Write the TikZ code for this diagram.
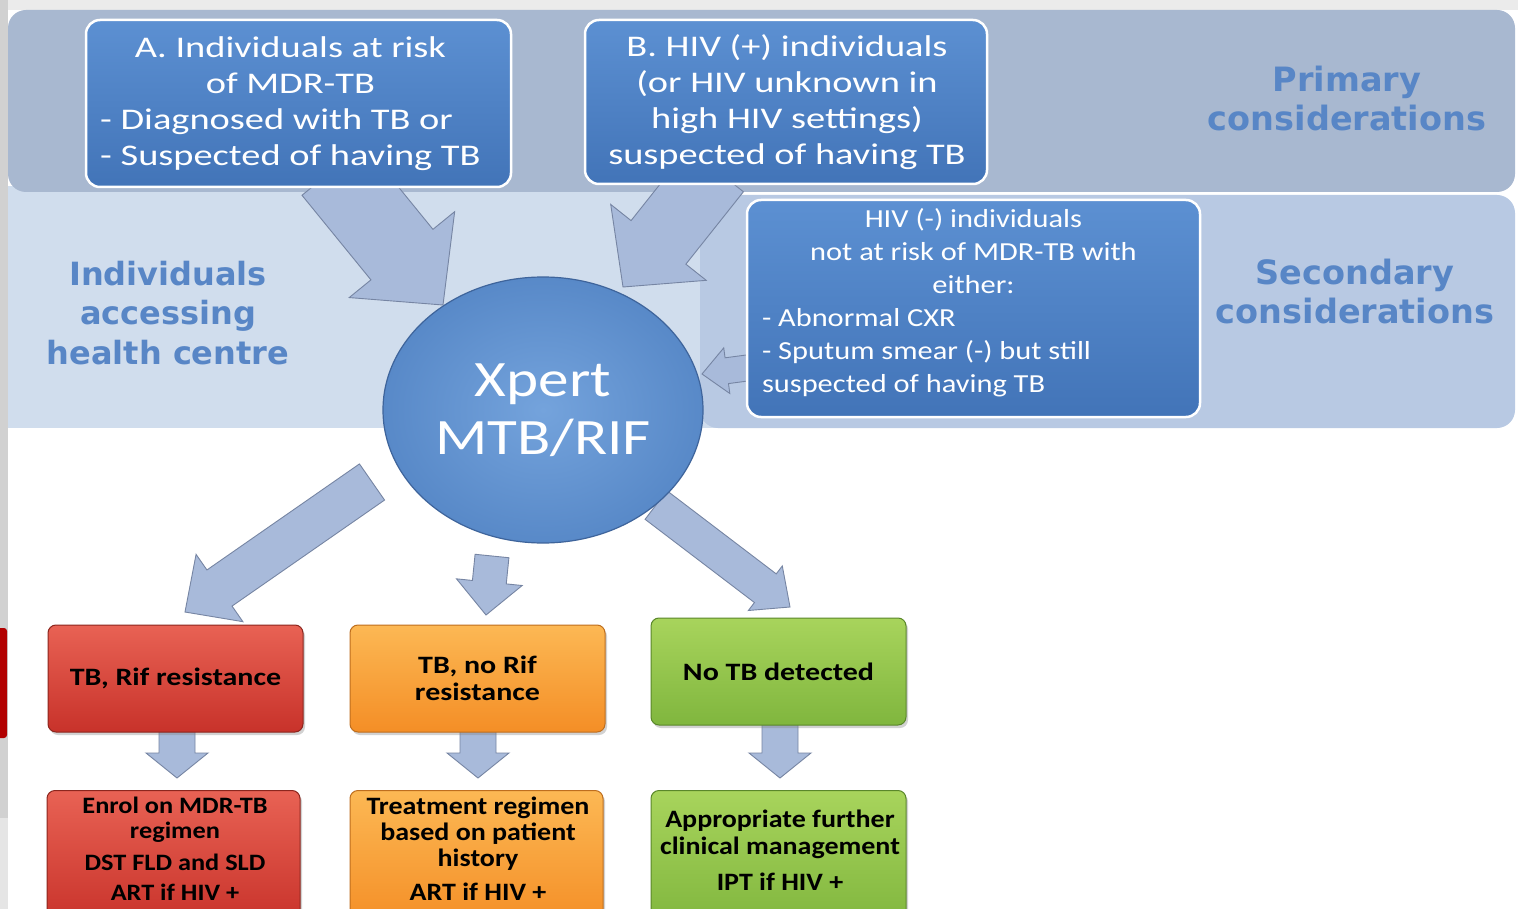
\documentclass[tikz,border=0pt]{standalone}
\usepackage{fontspec}
\setmainfont{Carlito}
\newfontfamily\lblfont{DejaVu Sans}
\newfontfamily\wideA{Carlito}[FakeStretch=1.28]
\newfontfamily\wideC{Carlito}[FakeStretch=1.17]
\newfontfamily\wideX{Carlito}[FakeStretch=1.2]
\newfontfamily\wideR{Carlito}[FakeStretch=1.2]
\newfontfamily\wideS{Carlito}[FakeStretch=1.12]
\usetikzlibrary{calc,shadows,shapes.geometric}

\definecolor{bandA}{RGB}{168,184,208}
\definecolor{bandL}{RGB}{208,221,237}
\definecolor{bandR}{RGB}{184,201,227}
\definecolor{boxtop}{RGB}{92,144,210}
\definecolor{boxbot}{RGB}{66,116,184}
\definecolor{lbl}{RGB}{88,134,198}
\definecolor{arrfill}{RGB}{168,186,218}
\definecolor{arrdraw}{RGB}{118,133,163}
\definecolor{ballin}{RGB}{116,163,220}
\definecolor{ballout}{RGB}{88,137,200}
\definecolor{balledge}{RGB}{62,100,155}
\definecolor{redtop}{RGB}{232,98,84}
\definecolor{redbot}{RGB}{200,50,42}
\definecolor{redline}{RGB}{140,38,30}
\definecolor{ortop}{RGB}{252,184,84}
\definecolor{orbot}{RGB}{244,142,38}
\definecolor{orline}{RGB}{190,110,30}
\definecolor{grtop}{RGB}{168,212,92}
\definecolor{grbot}{RGB}{128,182,62}
\definecolor{grline}{RGB}{90,135,42}

\newcommand\resfont{\wideR\fontsize{25}{27}\selectfont\bfseries}
\newcommand\resfontb{\wideS\fontsize{25}{26}\selectfont\bfseries}
\newcommand\blockarrow[5]{%
  \coordinate (ba-h) at ($(#2)!#5!(#1)$);
  \draw[blockarrowstyle] ($(#1)!#3!90:(#2)$) -- ($(ba-h)!#3!90:(#2)$) -- ($(ba-h)!#4!90:(#2)$) -- (#2) -- ($(ba-h)!#4!-90:(#2)$) -- ($(ba-h)!#3!-90:(#2)$) -- ($(#1)!#3!-90:(#2)$) -- cycle;}
\newcommand\ctrline[1]{\makebox[423pt][c]{#1}}

\tikzset{
  blockarrowstyle/.style={fill=arrfill, draw=arrdraw, line width=0.9pt, line join=miter},
  bluebox/.style={draw=white, line width=2.5pt, rounded corners=14pt, top color=boxtop, bottom color=boxbot, inner sep=0pt},
  bluetext/.style={text=white, inner sep=0pt},
  resultbox/.style={rounded corners=8pt, line width=1pt, inner sep=0pt,
    drop shadow={opacity=0.35, shadow xshift=2pt, shadow yshift=-3pt},
    minimum width=255pt, font=\resfont, align=center, text=black},
  redbox/.style={resultbox, top color=redtop, bottom color=redbot, draw=redline},
  orbox/.style={resultbox, top color=ortop, bottom color=orbot, draw=orline},
  grbox/.style={resultbox, top color=grtop, bottom color=grbot, draw=grline},
  restext/.style={font=\resfontb, align=center, inner sep=0pt, text=black},
  sidelabel/.style={font=\lblfont\bfseries\fontsize{33.5}{39}\selectfont, text=lbl, align=center, inner sep=0pt}
}

\begin{document}
\begin{tikzpicture}[x=1pt,y=-1pt]
\useasboundingbox (0,0) rectangle (1518,909);
\clip (0,0) rectangle (1518,909);
% page background
\fill[white] (0,0) rectangle (1518,909);
\fill[black!8] (0,0) rectangle (1518,10);
\fill[black!18] (0,0) rectangle (8,818);
\fill[black!10] (0,818) rectangle (8,909);
\fill[red!70!black, rounded corners=3pt] (-6,628) rectangle (7,738);

% bands
\fill[bandL] (8,186) rectangle (722,428);
\fill[bandR, rounded corners=18pt] (700,195) rectangle (1515,428);
\fill[bandA, rounded corners=18pt] (8,10) rectangle (1515,192);

% block arrows
\coordinate (sA) at (333,170);  \coordinate (tA) at (443,305);
\coordinate (sB) at (716,170);  \coordinate (tB) at (623,287);
\coordinate (sC) at (762,366);  \coordinate (tC) at (702,374);
\coordinate (sD) at (372,482);  \coordinate (tD) at (185,612);
\coordinate (sE) at (492,556);  \coordinate (tE) at (486,615);
\coordinate (sF) at (656,505);  \coordinate (tF) at (790,607);
\coordinate (sG) at (177,720);  \coordinate (tG) at (177,778);
\coordinate (sH) at (478,720);  \coordinate (tH) at (478,778);
\coordinate (sI) at (780,715);  \coordinate (tI) at (780,778);
\blockarrow{sA}{tA}{40pt}{68pt}{65pt}
\blockarrow{sB}{tB}{35pt}{61pt}{57pt}
\blockarrow{sC}{tC}{13pt}{23pt}{25pt}
\blockarrow{sD}{tD}{22pt}{41pt}{42pt}
\blockarrow{sE}{tE}{17pt}{33pt}{33pt}
\blockarrow{sF}{tF}{18pt}{28pt}{31pt}
\blockarrow{sG}{tG}{18pt}{31pt}{25pt}
\blockarrow{sH}{tH}{18pt}{31pt}{25pt}
\blockarrow{sI}{tI}{18pt}{31pt}{25pt}

% blue boxes
\node[bluebox, minimum width=425pt, minimum height=167pt] (A) at (298.5,103.5) {};
\node[bluetext, anchor=west, font=\wideA\fontsize{30}{36}\selectfont] (At) at (100,104)
  {\begin{tabular}{@{}l@{}}\multicolumn{1}{@{}c@{}}{A. Individuals at risk}\\ \multicolumn{1}{@{}c@{}}{of MDR-TB}\\ - Diagnosed with TB or\\ - Suspected of having TB\end{tabular}};
\node[bluebox, minimum width=402pt, minimum height=164pt] (B) at (786,102) {};
\node[bluetext, align=center, font=\wideA\fontsize{30}{36}\selectfont] (Bt) at (787,102)
  {B. HIV (+) individuals\\(or HIV unknown in\\high HIV settings)\\suspected of having TB};
\node[bluebox, minimum width=453pt, minimum height=217pt] (C) at (973.5,308.5) {};
\node[bluetext, align=left, font=\wideC\fontsize{26}{33}\selectfont] (Ct) at (973.5,302.5)
  {\ctrline{HIV (-) individuals}\\\ctrline{not at risk of MDR-TB with}\\\ctrline{either:}\\- Abnormal CXR\\- Sputum smear (-) but still\\suspected of having TB};

% side labels
\node[sidelabel] (prim) at (1347,99) {Primary\\considerations};
\node[sidelabel] (sec) at (1355,292) {Secondary\\considerations};
\node[sidelabel, font=\lblfont\bfseries\fontsize{32}{39.5}\selectfont] (ind) at (168,313) {Individuals\\accessing\\health centre};

% Xpert
\node[ellipse, minimum width=320pt, minimum height=266pt, inner color=ballin, outer color=ballout, draw=balledge, line width=1.2pt, text=white, align=center, font=\wideX\fontsize{51}{58}\selectfont, inner sep=0pt] (X) at (543,410) {Xpert\\MTB/RIF};

% result boxes
\node[redbox, minimum height=107pt] (r1) at (175.5,678.5) {TB, Rif resistance};
\node[orbox, minimum height=107pt] (o1) at (477.5,678.5) {TB, no Rif\\resistance};
\node[grbox, minimum height=107pt] (g1) at (778.5,671.5) {No TB detected};
\node[redbox, minimum width=253pt, minimum height=135pt, anchor=north] (r2) at (173.5,790) {};
\node[orbox, minimum width=253pt, minimum height=135pt, anchor=north] (o2) at (476.5,790) {};
\node[grbox, minimum height=135pt, anchor=north] (g2) at (778.5,790) {};
\node[restext, font=\wideS\fontsize{23.5}{25}\selectfont\bfseries] (r2t) at (175,849) {Enrol on MDR-TB\\regimen\\[7pt]DST FLD and SLD\\[5pt]ART if HIV +};
\node[restext] (o2t) at (478,849) {Treatment regimen\\based on patient\\history\\[8pt]ART if HIV +};
\node[restext, font=\wideS\fontsize{25}{27}\selectfont\bfseries] (g2t) at (780,850) {Appropriate further\\clinical management\\[9pt]IPT if HIV +};
\end{tikzpicture}
\end{document}
